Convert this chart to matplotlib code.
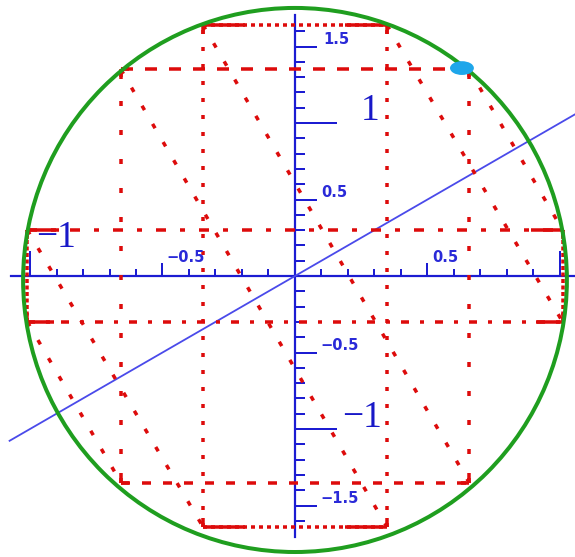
import numpy as np
import matplotlib
matplotlib.use("Agg")
import matplotlib.pyplot as plt
from matplotlib.patches import Ellipse

plt.rcParams['lines.scale_dashes'] = False
plt.rcParams['lines.solid_capstyle'] = 'butt'
plt.rcParams['lines.dash_capstyle'] = 'butt'

# ---- data -------------------------------------------------------------
# horizontal chords: ordinate and half-length
h_levels = [1.64, 1.35, 0.30, -0.30, -1.35, -1.64]
h_half = [0.347, 0.657, 1.01, 1.01, 0.657, 0.347]
# vertical chords: abscissa and half-length
v_levels = [-1.01, -0.657, -0.347, 0.347, 0.657, 1.01]
v_half = [0.30, 1.35, 1.64, 1.64, 1.35, 0.30]
# slanted chords: start and end points
d_x0 = [-0.657, -0.347, 0.347, 0.657, -1.01, -1.01]
d_y0 = [1.35, 1.64, 1.64, 1.35, 0.30, -0.30]
d_x1 = [0.347, 0.657, 1.01, 1.01, -0.347, -0.657]
d_y1 = [-1.64, -1.35, -0.30, 0.30, -1.64, -1.35]

# bounding ellipse
ell_center = (0.0, -0.026)
ell_semi = (1.026, 1.778)

# highlighted point
pt_x, pt_y, pt_r = 0.630, 1.359, 0.045

# diagonal y = x
diag_x = [-1.08, 1.12]

# tick positions
minor_x = [v for v in np.round(np.arange(-1.0, 1.01, 0.1), 2) if abs(v) > 1e-9]
major_x = [-1.0, -0.5, 0.5, 1.0]
minor_y = [v for v in np.round(np.arange(-1.6, 1.61, 0.1), 2) if abs(v) > 1e-9]
major_y = [-1.0, -0.5, 0.5, 1.0, -1.5, 1.5]

small_labels = ["1.5", "0.5", "\u22120.5", "\u22121.5", "0.5", "\u22120.5"]
small_pos = [(0.155, 1.516), (0.147, 0.516), (0.170, -0.484), (0.170, -1.484),
             (0.566, 0.092), (-0.411, 0.092)]
big_labels = ["1", "\u22121", "\u22121"]
big_pos = [(0.283, 1.02), (0.253, -0.987), (-0.902, 0.19)]

# ---- styles -----------------------------------------------------------
RED = '#dd0b0b'
BLUE = '#1c1cd2'
PX = 72 / 100.0  # one pixel in points

h_dash = [(0, (4 * PX, 4 * PX)), (0, (12 * PX, 12 * PX)),
          (0, (10 * PX, 14 * PX, 5 * PX, 14 * PX)),
          (0, (8 * PX, 11 * PX, 4 * PX, 11 * PX)),
          (0, (9 * PX, 12 * PX)), (0, (4 * PX, 4 * PX))]
v_dash = [(0, (4 * PX, 2.5 * PX)), (0, (5 * PX, 24 * PX)),
          (0, (4 * PX, 13 * PX)), (0, (4 * PX, 13 * PX)),
          (0, (5 * PX, 24 * PX)), (0, (4 * PX, 2.5 * PX))]
d_dash = (0, (5 * PX, 16 * PX))
h_stub = [0.16, 0.03, 0.12, 0.10, 0.03, 0.16]
LW = 3.5 * PX

fig = plt.figure(figsize=(5.75, 5.57), dpi=100)
ax = fig.add_axes([0, 0, 1, 1])
ax.set_xlim(-295 / 265, 280 / 265)
ax.set_ylim(-281 / 153, 276 / 153)

# red chords
for y, h, ls, st in zip(h_levels, h_half, h_dash, h_stub):
    ax.plot([-h, h], [y, y], color=RED, lw=LW, linestyle=ls, zorder=3)
    ax.plot([-h, -h + st], [y, y], color=RED, lw=LW, zorder=3)
    ax.plot([h - st, h], [y, y], color=RED, lw=LW, zorder=3)
for x, h, ls in zip(v_levels, v_half, v_dash):
    ax.plot([x, x], [-h, h], color=RED, lw=LW, linestyle=ls, zorder=3)
    ax.plot([x, x], [h - 0.06, h], color=RED, lw=LW, zorder=3)
    ax.plot([x, x], [-h, -h + 0.06], color=RED, lw=LW, zorder=3)
for x0, y0, x1, y1 in zip(d_x0, d_y0, d_x1, d_y1):
    ax.plot([x0, x1], [y0, y1], color=RED, lw=LW, linestyle=d_dash, zorder=3)

# line y = x
ax.plot(diag_x, diag_x, color='#4a4aea', lw=1.3, zorder=2.7)

# bounding ellipse
ax.add_patch(Ellipse(ell_center, 2 * ell_semi[0], 2 * ell_semi[1],
                     fill=False, edgecolor='#1f9e1f', lw=4 * PX, zorder=4))

# marked point
ax.add_patch(Ellipse((pt_x, pt_y), 2 * pt_r, 2 * pt_r,
                     facecolor='#1ea6ea', edgecolor='none', zorder=5))

# centred axes
for side in ['top', 'right']:
    ax.spines[side].set_visible(False)
ax.spines['left'].set_position(('data', 0))
ax.spines['bottom'].set_position(('data', 0))
ax.spines['left'].set_bounds(-1.706, 1.706)
ax.spines['bottom'].set_bounds(-1.07, 1.1)
for side in ['left', 'bottom']:
    ax.spines[side].set_color(BLUE)
    ax.spines[side].set_linewidth(2.2 * PX)
    ax.spines[side].set_zorder(2.5)

ax.set_xticks(major_x)
ax.set_xticks(minor_x, minor=True)
ax.set_yticks(major_y)
ax.set_yticks(minor_y, minor=True)
ax.set_xticklabels([])
ax.set_yticklabels([])
ax.tick_params(axis='x', which='major', direction='in', length=13 * PX,
               width=2 * PX, color=BLUE)
ax.tick_params(axis='x', which='minor', direction='in', length=7 * PX,
               width=2 * PX, color=BLUE)
ax.tick_params(axis='y', which='major', direction='in', length=22 * PX,
               width=2 * PX, color=BLUE)
ax.tick_params(axis='y', which='minor', direction='in', length=10 * PX,
               width=2 * PX, color=BLUE)
# unit ticks are longer
for tk, loc in zip(ax.xaxis.get_major_ticks(), major_x):
    if abs(abs(loc) - 1.0) < 1e-9:
        tk.tick1line.set_markersize(25 * PX)
for tk, loc in zip(ax.yaxis.get_major_ticks(), major_y):
    if abs(abs(loc) - 1.0) < 1e-9:
        tk.tick1line.set_markersize(42 * PX)

# labels
for txt, (x, y) in zip(small_labels, small_pos):
    ax.text(x, y, txt, color='#2a2ad8', fontsize=10.5, fontweight='bold',
            family='DejaVu Sans', ha='center', va='baseline', zorder=6)
for txt, (x, y) in zip(big_labels, big_pos):
    ax.text(x, y, txt, color='#1818c8', fontsize=27, family='Liberation Serif',
            ha='center', va='baseline', zorder=6)

fig.savefig('out.png', dpi=100, facecolor='white')
